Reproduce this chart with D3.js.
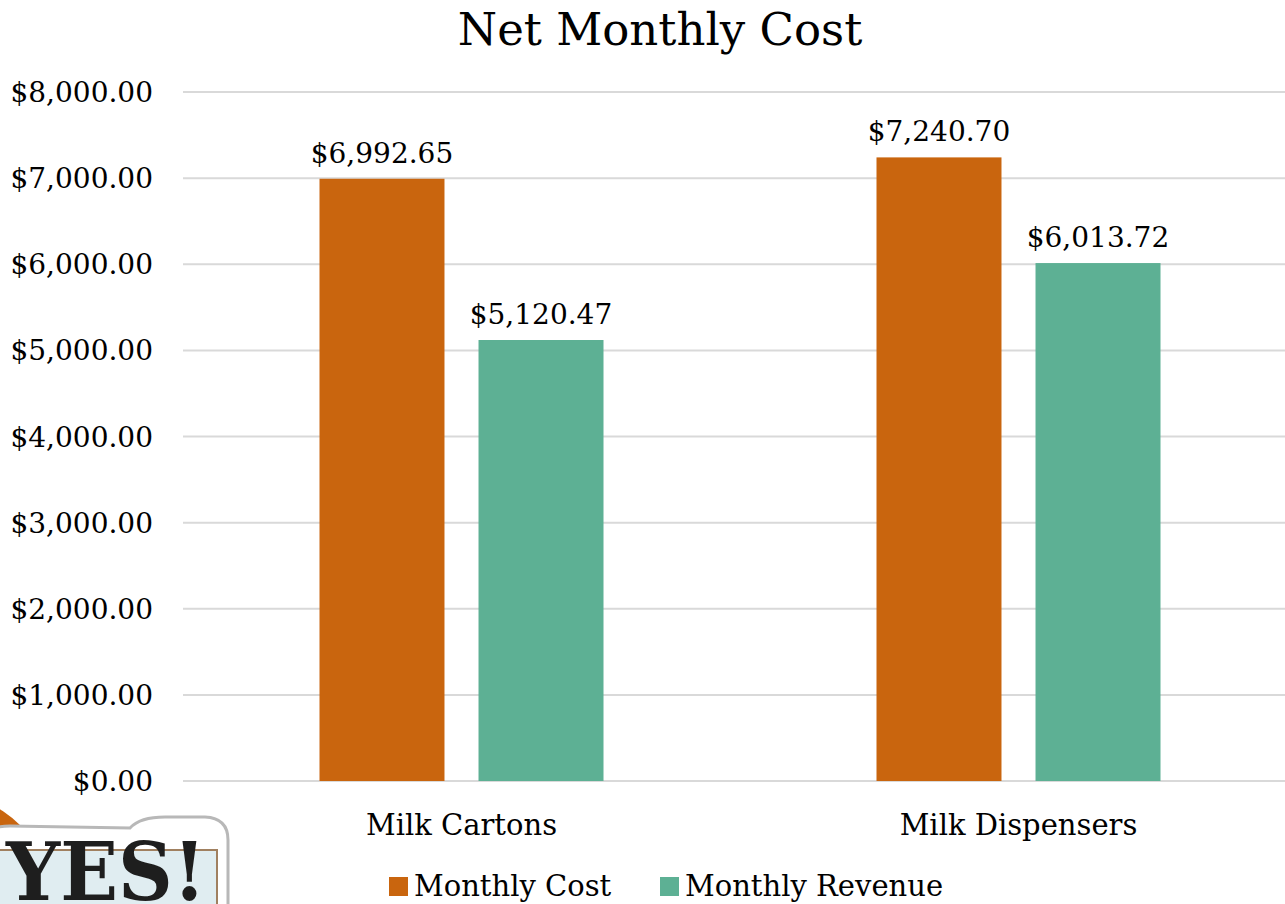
<!DOCTYPE html>
<html>
<head>
<meta charset="utf-8">
<script src="https://cdn.jsdelivr.net/npm/d3@7"></script>
<style>
  html, body { margin: 0; padding: 0; background: #fff; overflow: hidden; }
  svg { display: block; font-family: "DejaVu Serif", serif; }
</style>
</head>
<body>
<svg id="chart" width="1285" height="904"></svg>
<script>
const title = "Net Monthly Cost";
const categories = ["Milk Cartons", "Milk Dispensers"];
const seriesNames = ["Monthly Cost", "Monthly Revenue"];
const monthlyCost = [6992.65, 7240.70];
const monthlyRevenue = [5120.47, 6013.72];
const tickValues = [0, 1000, 2000, 3000, 4000, 5000, 6000, 7000, 8000];
const colors = ["#C9650E", "#5DB094"];

const svg = d3.select("#chart");
const fmt = v => "$" + d3.format(",.2f")(v);

const y = d3.scaleLinear().domain([0, 8000]).range([781, 92]);
const x0 = d3.scaleBand().domain(categories).range([183, 1297]).padding(0);
const x1 = d3.scaleBand().domain(seriesNames).range([136.5, 420.5]).paddingInner(0.214).paddingOuter(0);

// decorative logo (bottom-left)
const logo = svg.append("g");
logo.append("circle").attr("cx", -60).attr("cy", 905).attr("r", 113).attr("fill", "#C9650E");
logo.append("path")
  .attr("d", "M-10,834 Q-10,826 10,826 L130,828 Q140,817 165,817 L205,817 Q228,818 228,840 L228,910 L-10,910 Z")
  .attr("fill", "#fff").attr("stroke", "#b8b8b8").attr("stroke-width", 3);
logo.append("rect").attr("x", -5).attr("y", 850).attr("width", 222).attr("height", 70)
  .attr("fill", "#e0edf1").attr("stroke", "#a08060").attr("stroke-width", 2);
logo.append("text").attr("x", 6).attr("y", 900)
  .attr("font-family", "DejaVu Serif").attr("font-weight", "bold")
  .attr("font-size", 80).attr("fill", "#1e1e1e").attr("textLength", 200)
  .attr("lengthAdjust", "spacingAndGlyphs")
  .text("YES!");

// gridlines
svg.append("g").selectAll("line").data(tickValues).join("line")
  .attr("x1", 183).attr("x2", 1285)
  .attr("y1", d => y(d)).attr("y2", d => y(d))
  .attr("stroke", "#d9d9d9").attr("stroke-width", 2);

// y tick labels
svg.append("g").selectAll("text").data(tickValues).join("text")
  .attr("x", 153).attr("y", d => y(d) + 10)
  .attr("text-anchor", "end").attr("font-size", 28).attr("fill", "#000")
  .text(d => fmt(d));

// bars
const rows = categories.map((c, i) => ({ cat: c, vals: [monthlyCost[i], monthlyRevenue[i]] }));
const g = svg.append("g").selectAll("g").data(rows).join("g")
  .attr("transform", d => `translate(${x0(d.cat)},0)`);
g.selectAll("rect").data(d => d.vals.map((v, j) => ({ s: seriesNames[j], v, j }))).join("rect")
  .attr("x", d => x1(d.s)).attr("width", x1.bandwidth())
  .attr("y", d => y(d.v)).attr("height", d => y(0) - y(d.v))
  .attr("fill", d => colors[d.j]);
g.selectAll("text.lbl").data(d => d.vals.map((v, j) => ({ s: seriesNames[j], v, j }))).join("text")
  .attr("class", "lbl")
  .attr("x", d => x1(d.s) + x1.bandwidth() / 2).attr("y", d => y(d.v) - 16)
  .attr("text-anchor", "middle").attr("font-size", 28).attr("fill", "#000")
  .text(d => fmt(d.v));

// category labels
svg.append("g").selectAll("text").data(categories).join("text")
  .attr("x", d => x0(d) + x0.bandwidth() / 2).attr("y", 835)
  .attr("text-anchor", "middle").attr("font-size", 29).attr("fill", "#000")
  .text(d => d);

// title
svg.append("text").attr("x", 660).attr("y", 45).attr("text-anchor", "middle")
  .attr("font-size", 45).attr("fill", "#000").text(title);

// legend
const legendX = [389, 660];
const leg = svg.append("g").selectAll("g").data(seriesNames).join("g")
  .attr("transform", (d, i) => `translate(${legendX[i]},0)`);
leg.append("rect").attr("x", 0).attr("y", 877).attr("width", 19).attr("height", 19)
  .attr("fill", (d, i) => colors[i]);
leg.append("text").attr("x", 25).attr("y", 896).attr("font-size", 29).attr("fill", "#000")
  .text(d => d);
</script>
</body>
</html>
